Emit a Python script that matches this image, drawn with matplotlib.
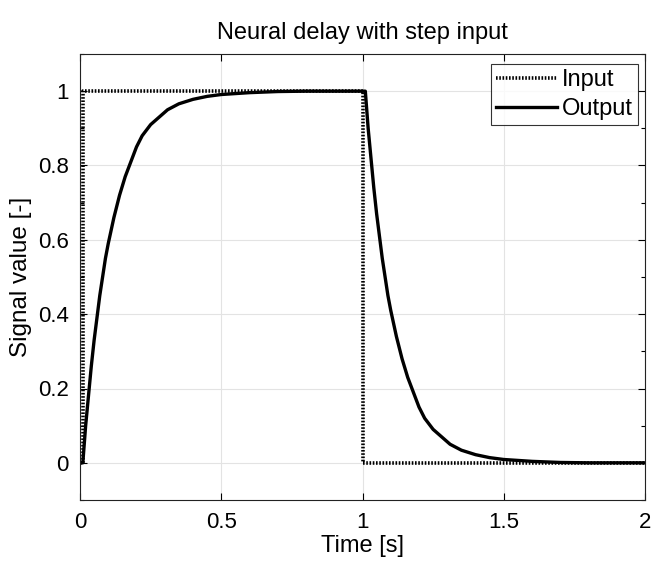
import matplotlib
matplotlib.use("Agg")
import matplotlib.pyplot as plt
from matplotlib.ticker import MultipleLocator

plt.rcParams['font.family'] = ['Liberation Sans', 'DejaVu Sans']

# Input step signal
t_in = [0.0, 0.01, 0.01, 1.0, 1.0, 2.0]
y_in = [0.0, 0.0, 1.0, 1.0, 0.0, 0.0]

# Output signal
t_out = [0.0, 0.01, 0.02, 0.03, 0.04, 0.05, 0.06, 0.07, 0.08, 0.09, 0.10,
         0.12, 0.14, 0.16, 0.18, 0.20, 0.22, 0.25, 0.28, 0.31, 0.35,
         0.40, 0.45, 0.50, 0.60, 0.70, 0.80, 1.00,
         1.01, 1.02, 1.03, 1.04, 1.05, 1.06, 1.07, 1.08, 1.09, 1.10,
         1.12, 1.14, 1.16, 1.18, 1.20, 1.22, 1.25, 1.28, 1.31, 1.35,
         1.40, 1.45, 1.50, 1.60, 1.70, 1.80, 2.00]
y_out = [0.0, 0.0, 0.10, 0.18, 0.26, 0.33, 0.39, 0.45, 0.50, 0.55, 0.59,
         0.66, 0.72, 0.77, 0.81, 0.85, 0.88, 0.91, 0.93, 0.95, 0.966,
         0.978, 0.986, 0.991, 0.996, 0.999, 1.0, 1.0,
         1.0, 0.90, 0.82, 0.74, 0.67, 0.61, 0.55, 0.50, 0.45, 0.41,
         0.34, 0.28, 0.23, 0.19, 0.15, 0.12, 0.09, 0.07, 0.05, 0.034,
         0.022, 0.014, 0.009, 0.004, 0.001, 0.0, 0.0]

x_ticks = [0, 0.5, 1, 1.5, 2]
x_labels = ["0", "0.5", "1", "1.5", "2"]
y_ticks = [0, 0.2, 0.4, 0.6, 0.8, 1]
y_labels = ["0", "0.2", "0.4", "0.6", "0.8", "1"]

fig = plt.figure(figsize=(6.54, 5.61), dpi=100)
ax = fig.add_axes([80/654, 1-500/561, 565/654, 446/561])

ax.plot(t_in, y_in, color='black', lw=2.6, linestyle=(0, (0.45, 0.45)), label='Input')
ax.plot(t_out, y_out, color='black', lw=2.4, label='Output', solid_joinstyle='round')

ax.set_xlim(0, 2)
ax.set_ylim(-0.1, 1.1)
ax.set_xticks(x_ticks)
ax.set_xticklabels(x_labels)
ax.set_yticks(y_ticks)
ax.set_yticklabels(y_labels)
ax.yaxis.set_minor_locator(MultipleLocator(0.1))
ax.grid(True, color='#e3e3e3', lw=0.8)
ax.set_axisbelow(True)
ax.tick_params(which='both', direction='in', top=True, right=True, labelsize=16, width=0.8)
ax.tick_params(axis='x', pad=9)
ax.tick_params(axis='y', pad=8)
ax.tick_params(which='major', length=5)
ax.tick_params(which='minor', length=3)
for s in ax.spines.values():
    s.set_linewidth(0.8)
    s.set_color('#222222')

ax.set_xlabel('Time [s]', fontsize=17, labelpad=1)
ax.set_ylabel('Signal value [-]', fontsize=17.5, labelpad=4)
ax.set_title('Neural delay with step input', fontsize=17, pad=11)

leg = ax.legend(loc='upper right', bbox_to_anchor=((638-80)/565, (500-64)/446),
                fontsize=17, frameon=True, fancybox=False,
                borderpad=0.22, handlelength=2.6, handletextpad=0.2,
                labelspacing=0.3, borderaxespad=0.0)
leg.get_frame().set_edgecolor('black')
leg.get_frame().set_linewidth(0.8)

fig.savefig('out.png', dpi=100)
